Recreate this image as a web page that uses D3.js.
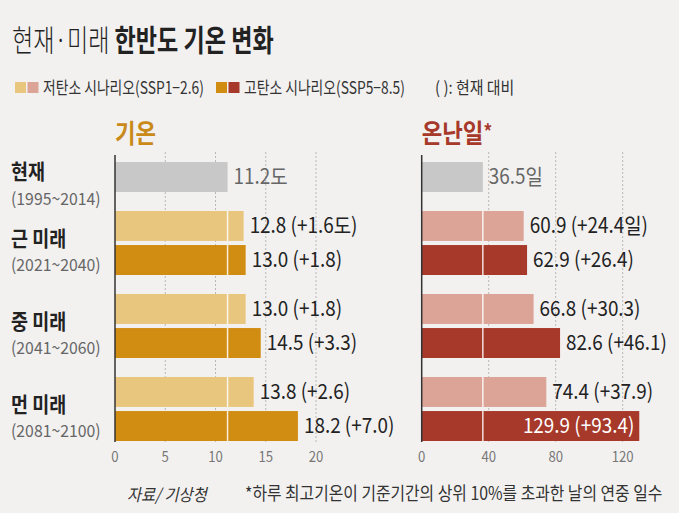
<!DOCTYPE html>
<html><head><meta charset="utf-8">
<script src="https://cdn.jsdelivr.net/npm/d3@7"></script>
<style>
html,body{margin:0;padding:0;background:#f2f1f0;}
svg{display:block;}
text{font-family:"Noto Sans CJK KR","Noto Sans",sans-serif;}
</style></head>
<body>
<svg id="c" width="679" height="513"></svg>
<script>
// ---- data ----
const categories = ["현재", "근 미래", "중 미래", "먼 미래"];
const periods = ["(1995~2014)", "(2021~2040)", "(2041~2060)", "(2081~2100)"];
const tempLow  = [null, 12.8, 13.0, 13.8];   // 저탄소 (SSP1-2.6)
const tempHigh = [11.2, 13.0, 14.5, 18.2];   // 고탄소 (SSP5-8.5); first = 현재
const daysLow  = [null, 60.9, 66.8, 74.4];
const daysHigh = [36.5, 62.9, 82.6, 129.9];
const tempTicks = [0, 5, 10, 15, 20];
const daysTicks = [0, 40, 80, 120];
const legendLabels = ["저탄소 시나리오(SSP1−2.6)", "고탄소 시나리오(SSP5−8.5)"];

const svg = d3.select("#c");
const SX = 0.88;

function txt(g, x, y, s, o = {}) {
  const t = g.append("text")
    .attr("transform", `translate(${x},${y}) scale(${o.sx ?? SX},1)`)
    .attr("font-size", o.size || 15)
    .attr("fill", o.fill || "#222")
    .attr("font-weight", o.weight || 400)
    .attr("text-anchor", o.anchor || "start")
    .text(s);
  if (o.italic) t.attr("font-style", "italic");
  return t;
}

// ---- title ----
const title = svg.append("text")
  .attr("transform", "translate(12,51) scale(0.77,1)")
  .attr("font-size", 30).attr("fill", "#222");
title.append("tspan").attr("font-weight", 300).text("현재·미래 ");
title.append("tspan").attr("font-weight", 700).text("한반도 기온 변화");

// ---- legend ----
const legColors = [["#e9c67e", "#dba497"], ["#d18d12", "#a6392a"]];
const legX = [15, 216];
legColors.forEach((cs, i) => {
  cs.forEach((c, j) => {
    svg.append("rect").attr("x", legX[i] + j * 12.5).attr("y", 82)
      .attr("width", 11).attr("height", 11).attr("fill", c);
  });
  txt(svg, legX[i] + 28, 94, legendLabels[i], { size: 17.5, fill: "#333", sx: 0.79 });
});
txt(svg, 435, 94, "(  ): 현재 대비", { size: 17, fill: "#333", sx: 0.88 });

// ---- layout scales ----
const y0 = d3.scaleBand().domain(categories).range([128, 128 + 4 * 83]);
const y1 = d3.scaleBand().domain(["low", "high"]).range([0, 64]).paddingInner(0.12);

const panels = [
  { x0: 115, x1: 316, domain: [0, 20], ticks: tempTicks, low: tempLow, high: tempHigh,
    cLow: "#e9c67e", cHigh: "#d18d12", title: "기온", star: "", tColor: "#c98a1a", unit: "도" },
  { x0: 421.7, x1: 622.7, domain: [0, 120], ticks: daysTicks, low: daysLow, high: daysHigh,
    cLow: "#dba497", cHigh: "#a6392a", title: "온난일", star: "*", tColor: "#a6392a", unit: "일" }
];

const fmt = d3.format(".1f");

panels.forEach(p => {
  const x = d3.scaleLinear().domain(p.domain).range([p.x0, p.x1]);
  const g = svg.append("g");
  const base = p.high[0];

  // section title
  const tt = txt(g, p.x0, 143, p.title, { size: 26, weight: 700, fill: p.tColor, sx: 0.86 });
  if (p.star) tt.append("tspan").attr("font-size", 20).attr("dy", -4).text(p.star);

  // grid lines
  g.selectAll(".grid").data(p.ticks.filter(t => t > 0)).join("line")
    .attr("x1", d => x(d)).attr("x2", d => x(d))
    .attr("y1", 152).attr("y2", 444)
    .attr("stroke", "#b8b8b8").attr("stroke-width", 1).attr("stroke-dasharray", "2,2");

  // bars
  const rows = [];
  categories.forEach((c, i) => {
    if (p.low[i] != null) rows.push({ cat: c, slot: "low", v: p.low[i], i });
    rows.push({ cat: c, slot: "high", v: p.high[i], i });
  });
  const color = d => d.i === 0 ? "#c8c8c8" : (d.slot === "low" ? p.cLow : p.cHigh);
  g.selectAll(".bar").data(rows).join("rect")
    .attr("x", x(0)).attr("y", d => y0(d.cat) + y1(d.slot))
    .attr("width", d => x(d.v) - x(0)).attr("height", y1.bandwidth())
    .attr("fill", color);

  // white reference line at present value on future bars
  g.selectAll(".ref").data(rows.filter(d => d.i > 0)).join("line")
    .attr("x1", x(base)).attr("x2", x(base))
    .attr("y1", d => y0(d.cat) + y1(d.slot))
    .attr("y2", d => y0(d.cat) + y1(d.slot) + y1.bandwidth())
    .attr("stroke", "#fff").attr("stroke-width", 1.5).attr("opacity", 0.85);

  // value labels
  rows.forEach((d, k) => {
    const yc = y0(d.cat) + y1(d.slot) + y1.bandwidth() / 2 + 7;
    let s;
    if (d.i === 0) s = fmt(d.v) + p.unit;
    else s = fmt(d.v) + " (+" + fmt(d.v - base) + (k === 1 ? p.unit : "") + ")";
    const inside = x(d.v) > p.x1 + 5;
    if (inside) {
      txt(g, x(d.v) - 5, yc, s, { size: 21, fill: "#fff", anchor: "end", sx: 0.9 });
    } else {
      txt(g, x(d.v) + 6, yc, s, { size: 21, fill: d.i === 0 ? "#666" : "#222", sx: 0.9 });
    }
  });

  // axis line
  g.append("line").attr("x1", x(0)).attr("x2", x(0)).attr("y1", 155).attr("y2", 442)
    .attr("stroke", "#333").attr("stroke-width", 1.5);

  // tick labels
  p.ticks.forEach(t => {
    txt(g, x(t), 462, String(t), { size: 15, fill: "#777", anchor: "middle", sx: 0.88 });
  });
});

// ---- category labels ----
categories.forEach((c, i) => {
  const yc = i === 0 ? y0(c) + y1("high") + y1.bandwidth() / 2 : y0(c) + 33;
  txt(svg, 11, yc + 2, c, { size: 21, weight: 700, fill: "#222", sx: 0.88 });
  txt(svg, 11, yc + (i === 0 ? 28 : 27), periods[i], { size: 17, fill: "#666", sx: 0.93 });
});

// ---- footer ----
txt(svg, 127, 501, "자료/ 기상청", { size: 17, fill: "#333", italic: true, sx: 0.9 });
txt(svg, 245, 500, "*하루 최고기온이 기준기간의 상위 10%를 초과한 날의 연중 일수", { size: 18, fill: "#333", sx: 0.88 });
</script>
</body></html>
